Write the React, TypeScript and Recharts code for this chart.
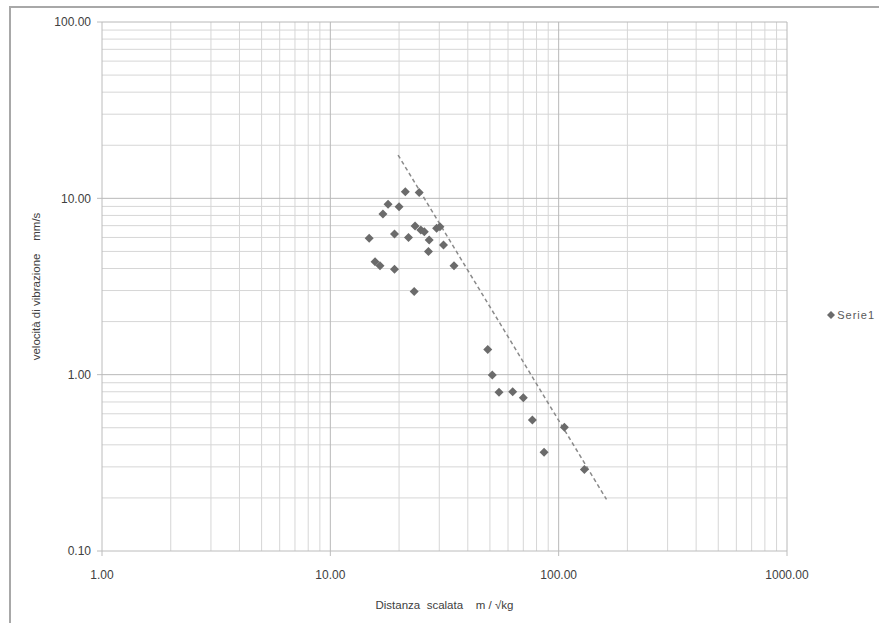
import React from 'react';
import {
  ScatterChart,
  Scatter,
  XAxis,
  YAxis,
  ReferenceLine,
  Legend,
  Label,
} from 'recharts';

// valori (distanza scalata / velocita di vibrazione)
const distanza = [14.8, 15.7, 16.5, 17.0, 17.9, 19.1, 19.1, 20.0, 21.3, 22.0, 23.3, 23.5, 24.5, 24.9, 25.8, 26.9, 27.1, 29.2, 30.2, 31.3, 34.8, 48.9, 51.2, 54.8, 62.9, 70.0, 76.7, 86.3, 105.9, 129.6];
const velocita = [5.94, 4.37, 4.14, 8.16, 9.26, 6.28, 3.96, 8.97, 10.9, 5.99, 2.96, 6.97, 10.8, 6.62, 6.47, 4.99, 5.81, 6.77, 6.9, 5.44, 4.14, 1.39, 0.996, 0.795, 0.8, 0.74, 0.553, 0.363, 0.503, 0.29];

// linea di tendenza (potenza)
const trendX = [19.8, 162];
const trendY = [17.6, 0.196];

const xTicks = [1, 10, 100, 1000];
const yTicks = [0.1, 1, 10, 100];
const xMinor = [2, 3, 4, 5, 6, 7, 8, 9, 20, 30, 40, 50, 60, 70, 80, 90, 200, 300, 400, 500, 600, 700, 800, 900];
const yMinor = [0.2, 0.3, 0.4, 0.5, 0.6, 0.7, 0.8, 0.9, 2, 3, 4, 5, 6, 7, 8, 9, 20, 30, 40, 50, 60, 70, 80, 90];
const xMajor = [10, 100, 1000];
const yMajor = [1, 10, 100];

const serie = distanza.map((x, i) => ({ x, y: velocita[i] }));
const trend = trendX.map((x, i) => ({ x, y: trendY[i] }));

const font = '"Liberation Sans", Arial, sans-serif';
const textColor = '#404040';
const sp = '\u00A0';

const Diamond = (props: any) => {
  const { cx, cy } = props;
  const r = 4.5;
  return (
    <polygon
      points={`${cx},${cy - r} ${cx + r},${cy} ${cx},${cy + r} ${cx - r},${cy}`}
      fill="#6b6b6b"
    />
  );
};

const LegendBox = () => (
  <div
    style={{
      width: 88,
      paddingTop: 6,
      display: 'flex',
      justifyContent: 'flex-end',
      alignItems: 'center',
      fontFamily: font,
      fontSize: 11,
      letterSpacing: 1,
      color: '#595959',
    }}
  >
    <svg width={8} height={8} style={{ marginRight: 2 }}>
      <polygon points="4,0 8,4 4,8 0,4" fill="#6b6b6b" />
    </svg>
    <span>Serie1</span>
  </div>
);

const YTitle = (props: any) => {
  const vb = props.viewBox;
  const x = vb.x + 26;
  const y = vb.y + vb.height / 2;
  return (
    <text
      x={x}
      y={y}
      transform={`rotate(-90, ${x}, ${y})`}
      textAnchor="middle"
      dominantBaseline="central"
      fontFamily={font}
      fontSize={11.5}
      fill={textColor}
    >
      {`velocità${sp}di${sp}vibrazione${sp}${sp}${sp}${sp}mm/s`}
    </text>
  );
};

export default function App() {
  return (
    <div style={{ position: 'absolute', left: 0, top: 0, width: 879, height: 623, overflow: 'hidden', background: '#fff' }}>
      <div
        style={{
          position: 'absolute',
          left: 9,
          top: 6,
          width: 868,
          height: 615,
          borderLeft: '2px solid #a8a8a8',
          borderTop: '2px solid #a8a8a8',
        }}
      />
      <div style={{ position: 'absolute', left: 0, top: 0 }}>
        <ScatterChart width={879} height={623} margin={{ top: 22, right: 4, bottom: 0, left: 10 }}>
          {xMinor.map((v) => (
            <ReferenceLine key={'xm' + v} x={v} stroke="#d6d6d6" strokeWidth={1} />
          ))}
          {yMinor.map((v) => (
            <ReferenceLine key={'ym' + v} y={v} stroke="#d6d6d6" strokeWidth={1} />
          ))}
          {xMajor.map((v) => (
            <ReferenceLine key={'xM' + v} x={v} stroke="#b8b8b8" strokeWidth={1} />
          ))}
          {yMajor.map((v) => (
            <ReferenceLine key={'yM' + v} y={v} stroke="#b8b8b8" strokeWidth={1} />
          ))}
          <XAxis
            dataKey="x"
            type="number"
            scale="log"
            domain={[1, 1000]}
            ticks={xTicks}
            allowDataOverflow
            height={72}
            tickFormatter={(v: number) => v.toFixed(2)}
            tick={{ fontSize: 12, fontFamily: font, fill: textColor }}
            axisLine={{ stroke: '#bcbcbc' }}
            tickLine={{ stroke: '#bcbcbc' }}
            tickSize={5}
            tickMargin={14}
          >
            <Label
              value={`Distanza${sp}${sp}scalata${sp}${sp}${sp}${sp}m${sp}/${sp}√kg`}
              position="insideBottom"
              offset={14}
              style={{ fontSize: 11.5, fontFamily: font, fill: textColor }}
            />
          </XAxis>
          <YAxis
            dataKey="y"
            type="number"
            scale="log"
            domain={[0.1, 100]}
            ticks={yTicks}
            allowDataOverflow
            width={92}
            tickFormatter={(v: number) => v.toFixed(2)}
            tick={{ fontSize: 12, fontFamily: font, fill: textColor }}
            axisLine={{ stroke: '#bcbcbc' }}
            tickLine={{ stroke: '#bcbcbc' }}
            tickSize={5}
            tickMargin={6}
          >
            <Label content={<YTitle />} />
          </YAxis>
          <Legend layout="vertical" align="right" verticalAlign="middle" content={<LegendBox />} />
          <Scatter
            name="Tendenza"
            data={trend}
            line={{ stroke: '#8a8a8a', strokeWidth: 1.5, strokeDasharray: '4 3' }}
            shape={() => <g />}
            isAnimationActive={false}
          />
          <Scatter name="Serie1" data={serie} shape={<Diamond />} isAnimationActive={false} />
        </ScatterChart>
      </div>
    </div>
  );
}
